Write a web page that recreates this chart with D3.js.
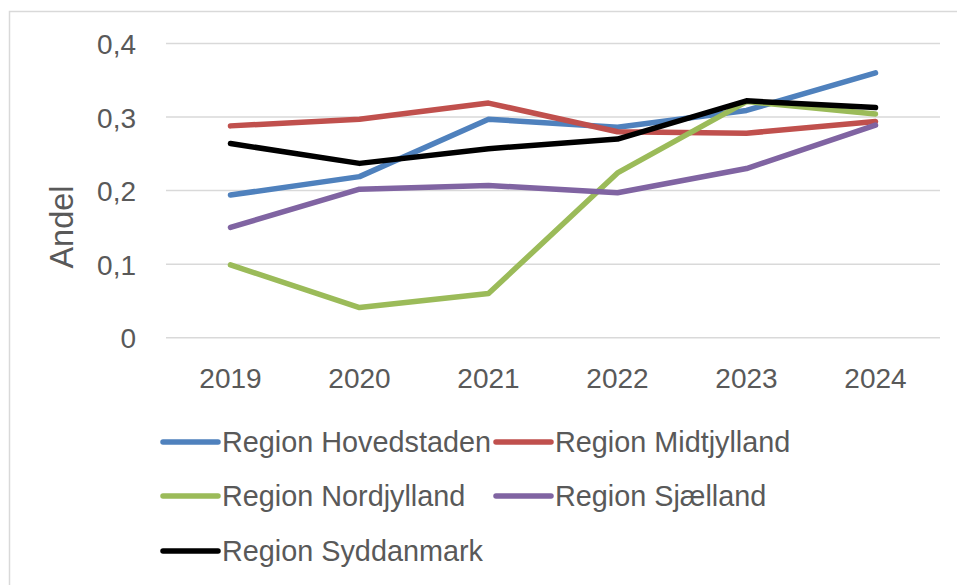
<!DOCTYPE html>
<html>
<head>
<meta charset="utf-8">
<script src="https://cdn.jsdelivr.net/npm/d3@7"></script>
<style>
  html, body { margin: 0; padding: 0; background: #fff; }
  svg { display: block; }
  text { font-family: "Liberation Sans", Arial, sans-serif; fill: #595959; }
</style>
</head>
<body>
<svg id="chart" width="957" height="585"></svg>
<script>
const years = ["2019", "2020", "2021", "2022", "2023", "2024"];
const seriesNames = ["Region Hovedstaden", "Region Midtjylland", "Region Nordjylland", "Region Sjælland", "Region Syddanmark"];
const hovedstaden = [0.194, 0.219, 0.297, 0.286, 0.309, 0.360];
const midtjylland = [0.288, 0.297, 0.319, 0.280, 0.278, 0.294];
const nordjylland = [0.099, 0.041, 0.060, 0.224, 0.321, 0.304];
const sjaelland   = [0.150, 0.202, 0.207, 0.197, 0.230, 0.289];
const syddanmark  = [0.264, 0.237, 0.257, 0.270, 0.322, 0.313];
const yTicks = [0, 0.1, 0.2, 0.3, 0.4];
const yTickLabels = ["0", "0,1", "0,2", "0,3", "0,4"];
const colors = ["#4F81BD", "#C0504D", "#9BBB59", "#8064A2", "#000000"];

const seriesValues = [hovedstaden, midtjylland, nordjylland, sjaelland, syddanmark];
const series = seriesNames.map((name, i) => ({ name, color: colors[i], values: seriesValues[i] }));

const svg = d3.select("#chart");

// outer frame
svg.append("rect")
  .attr("x", 9.5).attr("y", 11.5)
  .attr("width", 1000).attr("height", 700)
  .attr("fill", "none").attr("stroke", "#d9d9d9").attr("stroke-width", 1.5);

const x = d3.scaleBand().domain(years).range([166, 940]);
const y = d3.scaleLinear().domain([0, 0.4]).range([337.7, 43.5]);
const cx = d => x(d) + x.bandwidth() / 2;

// gridlines
svg.append("g").selectAll("line").data(yTicks).join("line")
  .attr("x1", 166).attr("x2", 940)
  .attr("y1", d => y(d)).attr("y2", d => y(d))
  .attr("stroke", "#d9d9d9").attr("stroke-width", 1.5);

// y axis
const yAxis = d3.axisLeft(y).tickValues(yTicks).tickFormat((d, i) => yTickLabels[i]).tickSize(0).tickPadding(0);
const yg = svg.append("g").attr("transform", "translate(136,0)").call(yAxis);
yg.select(".domain").remove();
yg.selectAll("text")
  .attr("font-size", 28).attr("fill", "#595959").attr("dy", "0.36em")
  .style("font-family", '"Liberation Sans", Arial, sans-serif');

// x axis
const xAxis = d3.axisBottom(x).tickSize(0).tickPadding(0);
const xg = svg.append("g").attr("transform", "translate(0,368)").call(xAxis);
xg.select(".domain").remove();
xg.selectAll("text")
  .attr("font-size", 28).attr("fill", "#595959").attr("dy", "0.72em")
  .style("font-family", '"Liberation Sans", Arial, sans-serif');

// y title
svg.append("text")
  .attr("transform", "translate(72.5,227) rotate(-90)")
  .attr("text-anchor", "middle")
  .attr("font-size", 32.5)
  .text("Andel");

// lines
const line = d3.line().x((d, i) => cx(years[i])).y(d => y(d));
svg.append("g").selectAll("path").data(series).join("path")
  .attr("d", d => line(d.values))
  .attr("fill", "none")
  .attr("stroke", d => d.color)
  .attr("stroke-width", 5.5)
  .attr("stroke-linejoin", "round")
  .attr("stroke-linecap", "round");

// legend
const legendPos = [
  { lx: 163, ty: 442 }, { lx: 496, ty: 442 },
  { lx: 163, ty: 496 }, { lx: 496, ty: 496 },
  { lx: 163, ty: 551 }
];
const lg = svg.append("g").selectAll("g").data(series).join("g")
  .attr("transform", (d, i) => `translate(${legendPos[i].lx},${legendPos[i].ty})`);
lg.append("line")
  .attr("x1", 0).attr("x2", 55).attr("y1", 0).attr("y2", 0)
  .attr("stroke", d => d.color).attr("stroke-width", 5.5).attr("stroke-linecap", "round");
lg.append("text")
  .attr("x", 59).attr("y", 0).attr("dy", "0.36em")
  .attr("font-size", 28.8)
  .text(d => d.name);
</script>
</body>
</html>
